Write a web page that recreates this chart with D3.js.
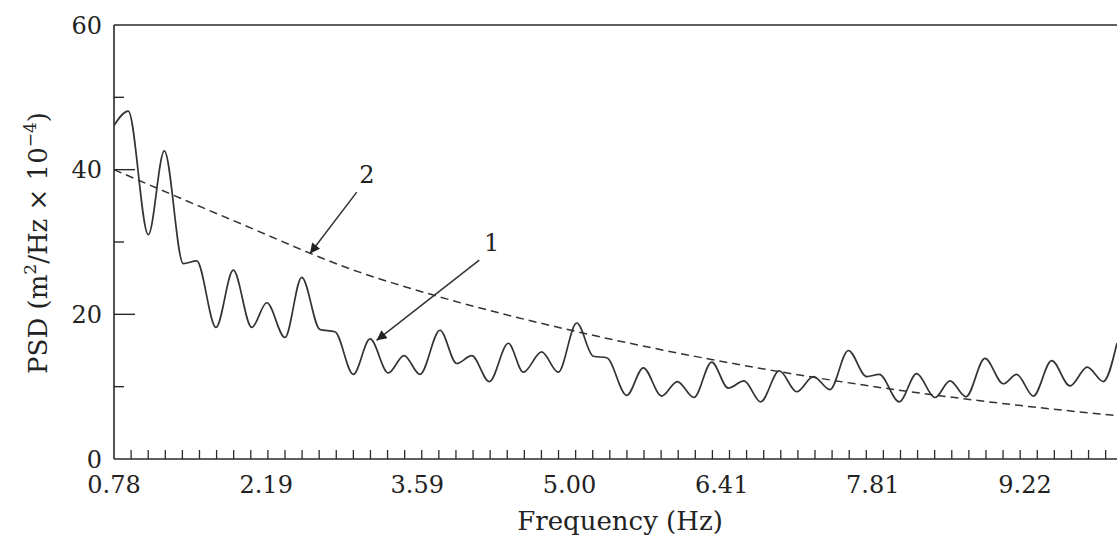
<!DOCTYPE html>
<html>
<head>
<meta charset="utf-8">
<script src="https://cdn.jsdelivr.net/npm/d3@7"></script>
<style>
  html, body { margin: 0; padding: 0; background: #fff; }
  svg { display: block; }
  text { font-family: "DejaVu Serif", serif; fill: #222; }
</style>
</head>
<body>
<svg id="chart" width="1117" height="539"></svg>
<script>
// ---- data ----
const xTickLabels = ["0.78", "2.19", "3.59", "5.00", "6.41", "7.81", "9.22"];
const xTickValues = [0.78, 2.19, 3.59, 5.00, 6.41, 7.81, 9.22];
const yMajorTicks = [0, 20, 40, 60];
const yMinorTicks = [10, 30, 50];
const xMinorStep = 0.1584;

// curve 1: measured PSD (frequency in Hz, PSD in m^2/Hz x 10^-4)
const psdFreq = [0.78, 0.912, 1.098, 1.246, 1.422, 1.546, 1.725, 1.885, 2.056, 2.195,
  2.364, 2.519, 2.688, 2.827, 2.997, 3.152, 3.321, 3.467, 3.615, 3.800,
  3.955, 4.094, 4.257, 4.433, 4.572, 4.742, 4.896, 5.067, 5.221, 5.345,
  5.530, 5.684, 5.854, 5.999, 6.153, 6.317, 6.471, 6.617, 6.771, 6.944,
  7.105, 7.259, 7.413, 7.583, 7.753, 7.870, 8.055, 8.216, 8.386, 8.525,
  8.673, 8.849, 9.019, 9.143, 9.297, 9.467, 9.637, 9.797, 9.945, 10.072];
const psdValue = [46.1, 48.1, 31.0, 42.6, 27.0, 27.4, 18.2, 26.1, 18.2, 21.6,
  16.8, 25.1, 17.9, 17.6, 11.7, 16.6, 11.9, 14.3, 11.7, 17.8,
  13.2, 14.3, 10.7, 16.0, 12.0, 14.8, 12.0, 18.8, 14.2, 14.0,
  8.8, 12.6, 8.7, 10.7, 8.5, 13.4, 9.8, 10.8, 7.9, 12.2,
  9.3, 11.4, 9.6, 15.0, 11.4, 11.7, 7.9, 11.8, 8.5, 10.8,
  8.6, 13.9, 10.4, 11.7, 8.7, 13.6, 10.1, 12.7, 10.7, 16.0];

// curve 2: reference spectrum (dashed)
const refFreq = [0.78, 1.88, 3.04, 3.73, 5.07, 6.30, 7.78, 9.23, 10.072];
const refValue = [40.0, 33.0, 25.9, 22.7, 17.6, 13.8, 10.1, 7.3, 6.0];

// annotations: label, label position (freq, value), arrow start, arrow tip
const annoLabels = ["2", "1"];
const annoText = [[3.124, 39.3], [4.279, 30.0]];
const annoFrom = [[3.029, 36.9], [4.164, 27.5]];
const annoTip = [[2.596, 28.4], [3.213, 16.4]];

// ---- layout ----
const svg = d3.select("#chart");
const x = d3.scaleLinear().domain([0.78, 9.22]).range([114, 1025]);
const xMax = x.invert(1117);
const y = d3.scaleLinear().domain([0, 60]).range([459, 25]);
const ink = "#2a2a2a";

// frame: left axis, bottom axis, top line
svg.append("line").attr("x1", x(0.78)).attr("x2", x(0.78)).attr("y1", y(0)).attr("y2", y(60))
  .attr("stroke", ink).attr("stroke-width", 1.6);
svg.append("line").attr("x1", x(0.78)).attr("x2", 1117).attr("y1", y(0)).attr("y2", y(0))
  .attr("stroke", ink).attr("stroke-width", 1.6);
svg.append("line").attr("x1", x(0.78)).attr("x2", 1117).attr("y1", y(60)).attr("y2", y(60))
  .attr("stroke", ink).attr("stroke-width", 1.4);

// y ticks (inward)
svg.selectAll(".ymaj").data(yMajorTicks.filter(d => d > 0 && d < 60)).enter().append("line")
  .attr("x1", x(0.78)).attr("x2", x(0.78) + 21).attr("y1", d => y(d)).attr("y2", d => y(d))
  .attr("stroke", ink).attr("stroke-width", 1.4);
svg.selectAll(".ymin").data(yMinorTicks).enter().append("line")
  .attr("x1", x(0.78)).attr("x2", x(0.78) + 10).attr("y1", d => y(d)).attr("y2", d => y(d))
  .attr("stroke", ink).attr("stroke-width", 1.4);
svg.selectAll(".ylab").data(yMajorTicks).enter().append("text")
  .attr("x", 102).attr("y", d => y(d)).attr("dy", "0.36em")
  .attr("text-anchor", "end").attr("font-size", 24).text(d => d);

// x minor ticks (inward)
const xMinor = d3.range(0.78 + xMinorStep, xMax, xMinorStep);
svg.selectAll(".xmin").data(xMinor).enter().append("line")
  .attr("x1", d => x(d)).attr("x2", d => x(d)).attr("y1", y(0)).attr("y2", y(0) - 9)
  .attr("stroke", ink).attr("stroke-width", 1.3);
svg.selectAll(".xlab").data(xTickValues).enter().append("text")
  .attr("x", d => x(d)).attr("y", 493)
  .attr("text-anchor", "middle").attr("font-size", 24)
  .text((d, i) => xTickLabels[i]);

// axis titles
svg.append("text").attr("x", 620).attr("y", 530).attr("text-anchor", "middle")
  .attr("font-size", 26).text("Frequency (Hz)");
const yt = svg.append("text").attr("transform", "translate(47,243) rotate(-90)")
  .attr("text-anchor", "middle").attr("font-size", 26);
yt.append("tspan").text("PSD (m");
yt.append("tspan").attr("font-size", 17).attr("dy", -11).text("2");
yt.append("tspan").attr("dy", 11).text("/Hz \u00d7 10");
yt.append("tspan").attr("font-size", 17).attr("dy", -11).text("\u22124");
yt.append("tspan").attr("dy", 11).text(")");

// curves
const clip = svg.append("clipPath").attr("id", "plotclip").append("rect")
  .attr("x", x(0.78)).attr("y", y(60)).attr("width", 1117 - x(0.78)).attr("height", y(0) - y(60));

const line = d3.line().x(d => x(d[0])).y(d => y(d[1])).curve(d3.curveMonotoneX);
svg.append("path").datum(refFreq.map((f, i) => [f, refValue[i]]))
  .attr("d", line).attr("fill", "none").attr("stroke", "#333")
  .attr("stroke-width", 1.5).attr("stroke-dasharray", "8,5")
  .attr("clip-path", "url(#plotclip)");
svg.append("path").datum(psdFreq.map((f, i) => [f, psdValue[i]]))
  .attr("d", line).attr("fill", "none").attr("stroke", "#333")
  .attr("stroke-width", 1.7).attr("clip-path", "url(#plotclip)");

// annotation arrows
svg.append("defs").append("marker").attr("id", "arrow")
  .attr("viewBox", "0 0 10 10").attr("refX", 10).attr("refY", 5)
  .attr("markerWidth", 16).attr("markerHeight", 10).attr("markerUnits", "userSpaceOnUse")
  .attr("orient", "auto")
  .append("path").attr("d", "M0,0 L10,5 L0,10 Z").attr("fill", "#222");
annoLabels.forEach((lab, i) => {
  svg.append("line")
    .attr("x1", x(annoFrom[i][0])).attr("y1", y(annoFrom[i][1]))
    .attr("x2", x(annoTip[i][0])).attr("y2", y(annoTip[i][1]))
    .attr("stroke", "#333").attr("stroke-width", 1.5).attr("marker-end", "url(#arrow)");
  svg.append("text").attr("x", x(annoText[i][0])).attr("y", y(annoText[i][1]))
    .attr("dy", "0.36em").attr("text-anchor", "middle").attr("font-size", 24).text(lab);
});
</script>
</body>
</html>
